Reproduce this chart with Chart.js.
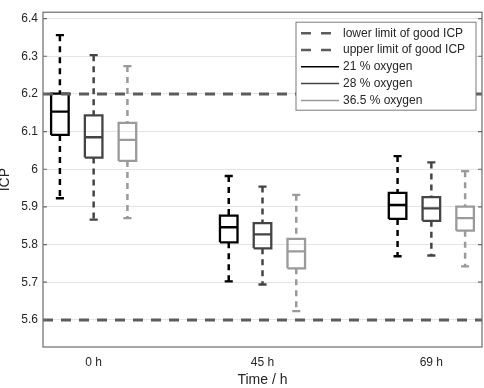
<!DOCTYPE html>
<html>
<head>
<meta charset="utf-8">
<script src="https://cdn.jsdelivr.net/npm/chart.js@4.4.0/dist/chart.umd.min.js"></script>
<style>
  html, body { margin: 0; padding: 0; background: #fff; }
</style>
</head>
<body>
<canvas id="icpChart" width="484" height="388"></canvas>
<script>
const timeLabels = ['0 h', '45 h', '69 h'];
const oxygenLabels = ['21 % oxygen', '28 % oxygen', '36.5 % oxygen'];
const oxygenColors = ['#000000', '#444444', '#9a9a9a'];

// box statistics, one row per oxygen level, one value per time point
const whiskerHigh = [[6.356, 5.982, 6.035], [6.303, 5.954, 6.018], [6.274, 5.932, 5.995]];
const upperQuartile = [[6.201, 5.877, 5.937], [6.143, 5.857, 5.926], [6.123, 5.815, 5.901]];
const medians = [[6.153, 5.846, 5.905], [6.085, 5.827, 5.896], [6.078, 5.782, 5.870]];
const lowerQuartile = [[6.091, 5.806, 5.868], [6.031, 5.790, 5.863], [6.022, 5.737, 5.837]];
const whiskerLow = [[5.923, 5.702, 5.769], [5.866, 5.694, 5.771], [5.870, 5.623, 5.742]];

const lowerLimit = 5.6;
const upperLimit = 6.2;
const yTicks = [5.6, 5.7, 5.8, 5.9, 6.0, 6.1, 6.2, 6.3, 6.4];

const boxHalf = 0.26;
const capHalf = 0.12;
const fontFamily = '"Liberation Sans", Arial, sans-serif';

function posOf(s, g) {
    return g * 5 + s + 1;
}

function boxLines(s) {
    let pts = [];
    timeLabels.forEach((t, g) => {
        let x = posOf(s, g);
        let lo = lowerQuartile[s][g];
        let hi = upperQuartile[s][g];
        pts.push({x: x - boxHalf, y: lo}, {x: x + boxHalf, y: lo}, {x: x + boxHalf, y: hi},
                 {x: x - boxHalf, y: hi}, {x: x - boxHalf, y: lo}, {x: x, y: null});
        pts.push({x: x - boxHalf, y: medians[s][g]}, {x: x + boxHalf, y: medians[s][g]}, {x: x, y: null});
        pts.push({x: x - capHalf, y: whiskerHigh[s][g]}, {x: x + capHalf, y: whiskerHigh[s][g]}, {x: x, y: null});
        pts.push({x: x - capHalf, y: whiskerLow[s][g]}, {x: x + capHalf, y: whiskerLow[s][g]}, {x: x, y: null});
    });
    return pts;
}

function whiskerLines(s) {
    let pts = [];
    timeLabels.forEach((t, g) => {
        let x = posOf(s, g);
        pts.push({x: x, y: whiskerHigh[s][g]}, {x: x, y: upperQuartile[s][g]}, {x: x, y: null});
        pts.push({x: x, y: lowerQuartile[s][g]}, {x: x, y: whiskerLow[s][g]}, {x: x, y: null});
    });
    return pts;
}

let datasets = [];
const xMin = 0.5;
const xMax = timeLabels.length * 5 - 1.5;

datasets.push({
    legendText: 'lower limit of good ICP',
    data: [{x: xMin, y: lowerLimit}, {x: xMax, y: lowerLimit}],
    borderColor: '#5c5c5c', borderWidth: 3, borderDash: [10, 8]
});
datasets.push({
    legendText: 'upper limit of good ICP',
    data: [{x: xMin, y: upperLimit}, {x: xMax, y: upperLimit}],
    borderColor: '#5c5c5c', borderWidth: 3, borderDash: [10, 8]
});

oxygenLabels.forEach((name, s) => {
    datasets.push({
        data: whiskerLines(s),
        borderColor: oxygenColors[s], borderWidth: 2.5, borderDash: [6, 5]
    });
    datasets.push({
        legendText: name,
        data: boxLines(s),
        borderColor: oxygenColors[s], borderWidth: 2.3
    });
});

datasets.forEach(d => {
    d.pointRadius = 0;
    d.spanGaps = false;
    d.tension = 0;
    d.fill = false;
});

const frameAndLegend = {
    id: 'frameAndLegend',
    afterDraw(chart) {
        const ctx = chart.ctx;
        const a = chart.chartArea;
        const yScale = chart.scales.y;
        ctx.save();

        // axes box with inward ticks
        ctx.strokeStyle = '#6b6b6b';
        ctx.lineWidth = 1.2;
        ctx.strokeRect(a.left, a.top, a.right - a.left, a.bottom - a.top);
        ctx.beginPath();
        yTicks.forEach(v => {
            let y = yScale.getPixelForValue(v);
            ctx.moveTo(a.left, y);
            ctx.lineTo(a.left + 4, y);
            ctx.moveTo(a.right, y);
            ctx.lineTo(a.right - 4, y);
        });
        ctx.stroke();

        // legend
        const items = chart.data.datasets.filter(d => d.legendText);
        const rowH = 16.8;
        const w = 180;
        const h = items.length * rowH + 4;
        const x0 = a.right - 6 - w;
        const y0 = a.top + 10;
        ctx.fillStyle = '#ffffff';
        ctx.fillRect(x0, y0, w, h);
        ctx.strokeStyle = '#7a7a7a';
        ctx.lineWidth = 1;
        ctx.strokeRect(x0, y0, w, h);
        ctx.font = '12px ' + fontFamily;
        ctx.textBaseline = 'middle';
        ctx.textAlign = 'left';
        items.forEach((d, i) => {
            let y = y0 + 11 + i * rowH;
            ctx.beginPath();
            ctx.strokeStyle = d.borderColor;
            ctx.lineWidth = d.borderDash ? 2.5 : 1.5;
            ctx.setLineDash(d.borderDash ? [10, 10] : []);
            ctx.moveTo(x0 + 5, y);
            ctx.lineTo(x0 + 43, y);
            ctx.stroke();
            ctx.setLineDash([]);
            ctx.fillStyle = '#262626';
            ctx.fillText(d.legendText, x0 + 47, y);
        });
        ctx.restore();
    }
};

new Chart(document.getElementById('icpChart'), {
    type: 'line',
    data: {datasets: datasets},
    options: {
        responsive: false,
        animation: false,
        layout: {padding: {top: 2, right: 2, left: 0, bottom: 0}},
        plugins: {
            legend: {display: false},
            tooltip: {enabled: false}
        },
        scales: {
            x: {
                type: 'linear',
                min: xMin,
                max: xMax,
                afterBuildTicks: scale => {
                    scale.ticks = timeLabels.map((t, g) => ({value: posOf(1, g)}));
                },
                afterFit: scale => { scale.height = 41; },
                ticks: {
                    callback: v => timeLabels[Math.round((v - 2) / 5)],
                    font: {family: fontFamily, size: 12},
                    color: '#262626',
                    padding: 8,
                    maxRotation: 0
                },
                grid: {display: false, drawTicks: false},
                border: {display: false},
                title: {
                    display: true,
                    text: 'Time / h',
                    font: {family: fontFamily, size: 14},
                    color: '#262626',
                    padding: {top: 0, bottom: -1}
                }
            },
            y: {
                type: 'linear',
                min: 5.528,
                max: 6.417,
                afterBuildTicks: scale => {
                    scale.ticks = yTicks.map(v => ({value: v}));
                },
                afterFit: scale => { scale.width = 43; },
                ticks: {
                    callback: v => String(Number(v.toFixed(1))),
                    font: {family: fontFamily, size: 12},
                    color: '#262626',
                    padding: 5
                },
                grid: {color: '#e4e4e4', drawTicks: false},
                border: {display: false},
                title: {
                    display: true,
                    text: 'ICP',
                    font: {family: fontFamily, size: 14},
                    color: '#262626',
                    padding: {top: -3, bottom: 0}
                }
            }
        }
    },
    plugins: [frameAndLegend]
});
</script>
</body>
</html>
